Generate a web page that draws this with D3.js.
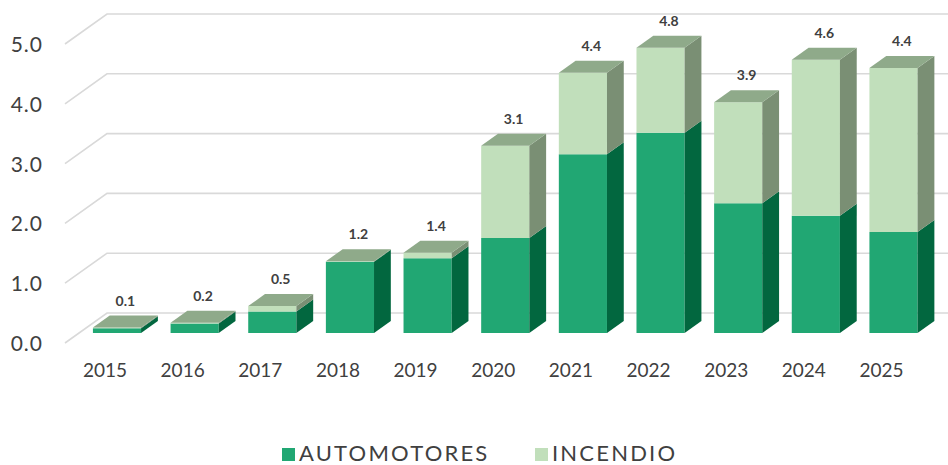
<!DOCTYPE html>
<html>
<head>
<meta charset="utf-8">
<script src="https://cdn.jsdelivr.net/npm/d3@7"></script>
<style>
    body { margin: 0; background: #fff; }
    text { font-family: "Century Gothic", Lato, "Open Sans", sans-serif; fill: #404040; }
</style>
</head>
<body>
<div id="chart"></div>
<script>

// data
const years = ["2015", "2016", "2017", "2018", "2019", "2020", "2021", "2022", "2023", "2024", "2025"];
const automotores = [0.08, 0.16, 0.36, 1.19, 1.25, 1.59, 2.99, 3.35, 2.17, 1.96, 1.69];
const incendio = [0.01, 0.01, 0.09, 0.01, 0.09, 1.54, 1.36, 1.42, 1.69, 2.61, 2.74];
const totalLabels = ["0.1", "0.2", "0.5", "1.2", "1.4", "3.1", "4.4", "4.8", "3.9", "4.6", "4.4"];
const yTicks = [0, 1, 2, 3, 4, 5];
const seriesNames = ["AUTOMOTORES", "INCENDIO"];

const width = 948, height = 465;

// colours per series: front, side, top
const colors = [
    {front: "#21a773", side: "#02673f", top: "#8faa8a"},
    {front: "#c1dfbb", side: "#7a8f74", top: "#8faa8a"}
];

// 3d depth of the floor (front edge -> back wall)
const depthX = 42, depthY = 30;
const zFront = 1 / 3, zBack = zFront + 0.4;

let svg = d3.select("#chart").append("svg")
    .attr("width", width)
    .attr("height", height);

// scales in floor-front coordinates
let x = d3.scalePoint().domain(years).range([103, 879.5]);
let y = d3.scaleLinear().domain([0, 5]).range([343, 343 - 5 * 59.8]);
let bw = x.step() * 0.62;

// project a point back into the depth
function P(xf, v, z) {
    return [xf + depthX * z, y(v) - depthY * z];
}

// gridlines: side wall diagonal + back wall
svg.append("g").attr("class", "grid")
    .selectAll("path")
    .data(yTicks)
    .join("path")
    .attr("d", d => {
        let a = P(65, d, 0), b = P(65, d, 1);
        return `M${a[0]},${a[1]}L${b[0]},${b[1]}L${width},${b[1]}`;
    })
    .attr("fill", "none")
    .attr("stroke", "#d9d9d9")
    .attr("stroke-width", 1.6);

// y axis
let yAxis = svg.append("g")
    .attr("transform", "translate(45,0)")
    .call(d3.axisLeft(y).tickValues(yTicks).tickFormat(d3.format(".1f")).tickSize(0).tickPadding(2));
yAxis.select(".domain").remove();
yAxis.selectAll("text")
    .style("font-size", "21px")
    .style("letter-spacing", "1px")
    .attr("fill", "#404040")
    .attr("dy", "0.36em");

// stacked data
let stackData = years.map((yr, i) => {
    let segs = [];
    let base = 0;
    [automotores[i], incendio[i]].forEach((v, s) => {
        segs.push({s: s, v0: base, v1: base + v});
        base += v;
    });
    return {year: yr, segs: segs, total: base, label: totalLabels[i]};
});

function poly(pts) {
    return "M" + pts.map(p => p.join(",")).join("L") + "Z";
}

let bars = svg.append("g").attr("class", "bars")
    .selectAll("g")
    .data(stackData)
    .join("g");

bars.each(function (d) {
    let g = d3.select(this);
    let x0 = x(d.year) - bw / 2, x1 = x(d.year) + bw / 2;
    d.segs.forEach(seg => {
        let c = colors[seg.s];
        // front face
        g.append("path")
            .attr("d", poly([P(x0, seg.v0, zFront), P(x1, seg.v0, zFront), P(x1, seg.v1, zFront), P(x0, seg.v1, zFront)]))
            .attr("fill", c.front);
        // side face
        g.append("path")
            .attr("d", poly([P(x1, seg.v0, zFront), P(x1, seg.v0, zBack), P(x1, seg.v1, zBack), P(x1, seg.v1, zFront)]))
            .attr("fill", c.side);
    });
    // top face
    let top = d.segs[d.segs.length - 1];
    g.append("path")
        .attr("d", poly([P(x0, top.v1, zFront), P(x1, top.v1, zFront), P(x1, top.v1, zBack), P(x0, top.v1, zBack)]))
        .attr("fill", colors[top.s].top);

    // total label, above the middle of the bar's depth
    let lx = P(x(d.year), d.total, zFront + 0.2)[0];
    let ly = P(x(d.year), d.total, zBack)[1];
    g.append("text")
        .attr("x", lx)
        .attr("y", ly - 15)
        .attr("dy", "0.35em")
        .attr("text-anchor", "middle")
        .style("font-size", "14px")
        .style("font-weight", "bold")
        .text(d.label);
});

// x labels
svg.append("g").attr("class", "x-labels")
    .selectAll("text")
    .data(years)
    .join("text")
    .attr("x", d => x(d) + 2)
    .attr("y", y(0) + 34)
    .attr("text-anchor", "middle")
    .style("font-size", "19px")
    .text(d => d);

// legend
let legend = svg.append("g").attr("class", "legend");
let legendX = [282, 535];
seriesNames.forEach((name, i) => {
    legend.append("rect")
        .attr("x", legendX[i])
        .attr("y", 448)
        .attr("width", 13)
        .attr("height", 13)
        .attr("fill", colors[i].front);
    legend.append("text")
        .attr("x", legendX[i] + 17)
        .attr("y", 461)
        .style("font-size", "22px")
        .style("letter-spacing", "2.2px")
        .text(name);
});

</script>
</body>
</html>
